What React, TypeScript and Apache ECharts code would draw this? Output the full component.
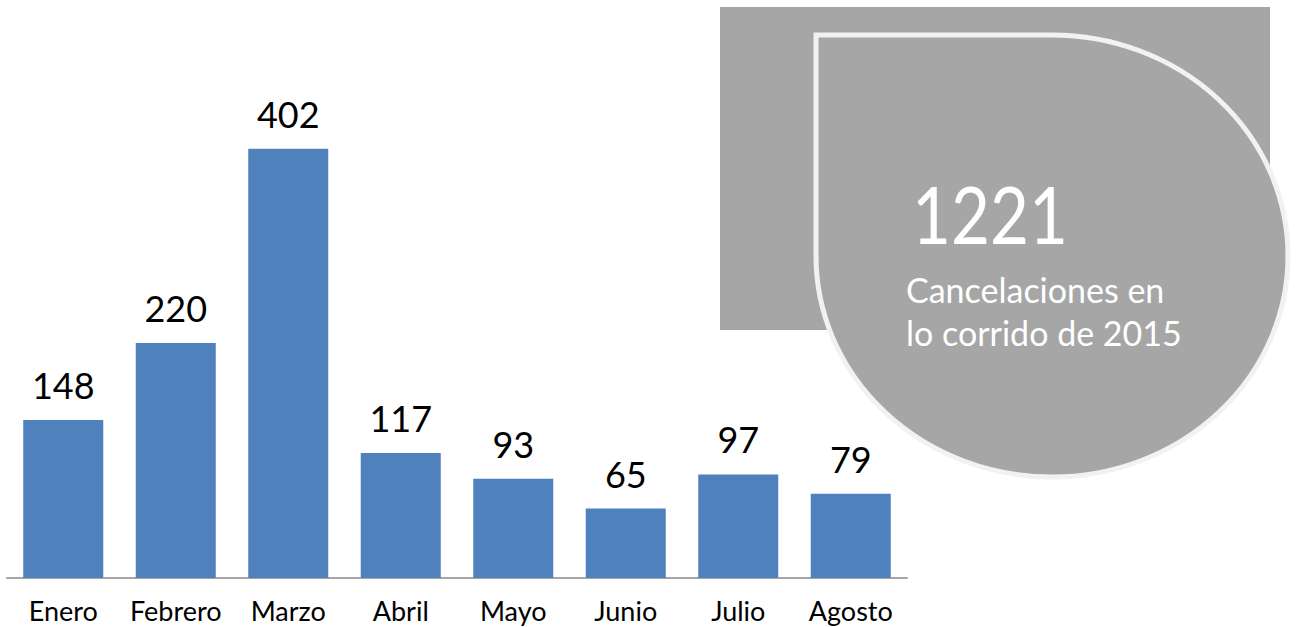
import React, { useEffect, useRef } from "react";
import * as echarts from "echarts";

const months = ["Enero", "Febrero", "Marzo", "Abril", "Mayo", "Junio", "Julio", "Agosto"];
const cancelaciones = [148, 220, 402, 117, 93, 65, 97, 79];
const totalText = "1221";
const subtitleLines = ["Cancelaciones en", "lo corrido de 2015"];

const RX = 236;
const RY = 221;
echarts.graphic.registerShape(
  "drop",
  echarts.graphic.extendPath(`M0,0 L${RX},0 A${RX},${RY} 0 1 1 0,${RY} Z`, {})
);

export default function App() {
  const ref = useRef<HTMLDivElement>(null);
  useEffect(() => {
    const chart = echarts.init(ref.current!, undefined, { renderer: "svg" });
    chart.setOption({
      animation: false,
      grid: { left: 7, right: 390, top: 44, bottom: 49, containLabel: false },
      xAxis: {
        type: "category",
        data: months,
        axisLine: { lineStyle: { color: "#a6a6a6", width: 2 } },
        axisTick: { show: false },
        axisLabel: {
          color: "#000",
          fontSize: 27,
          fontFamily: "Lato",
          margin: 19,
          interval: 0,
          hideOverlap: false,
        },
      },
      yAxis: { type: "value", min: 0, max: 500, show: false, splitLine: { show: false } },
      graphic: [
        { type: "rect", shape: { x: 720, y: 7, width: 550, height: 323 }, style: { fill: "#a6a6a6" }, z: 10 },
        {
          type: "drop",
          x: 816,
          y: 35,
          style: { fill: "#a6a6a6", stroke: "#f2f2f2", lineWidth: 5 },
          z: 11,
        },
        {
          type: "text",
          x: 912,
          y: 213,
          scaleX: 0.84,
          style: { text: totalText, fill: "#fff", font: "80px Lato", verticalAlign: "middle" },
          z: 12,
        },
        {
          type: "text",
          x: 906,
          y: 289,
          style: { text: subtitleLines[0], fill: "#fff", font: "34px Lato", verticalAlign: "middle" },
          z: 12,
        },
        {
          type: "text",
          x: 906,
          y: 332,
          style: { text: subtitleLines[1], fill: "#fff", font: "34px Lato", verticalAlign: "middle" },
          z: 12,
        },
      ],
      series: [
        {
          type: "bar",
          data: cancelaciones,
          barWidth: 80,
          itemStyle: { color: "#4f81bd" },
          label: {
            show: true,
            position: "top",
            distance: 17,
            color: "#000",
            fontSize: 36,
            fontFamily: "Lato",
          },
        },
      ],
    });
    return () => chart.dispose();
  }, []);
  return (
    <div
      ref={ref}
      style={{ position: "fixed", left: 0, top: 0, width: 1297, height: 627, background: "#fff" }}
    />
  );
}
